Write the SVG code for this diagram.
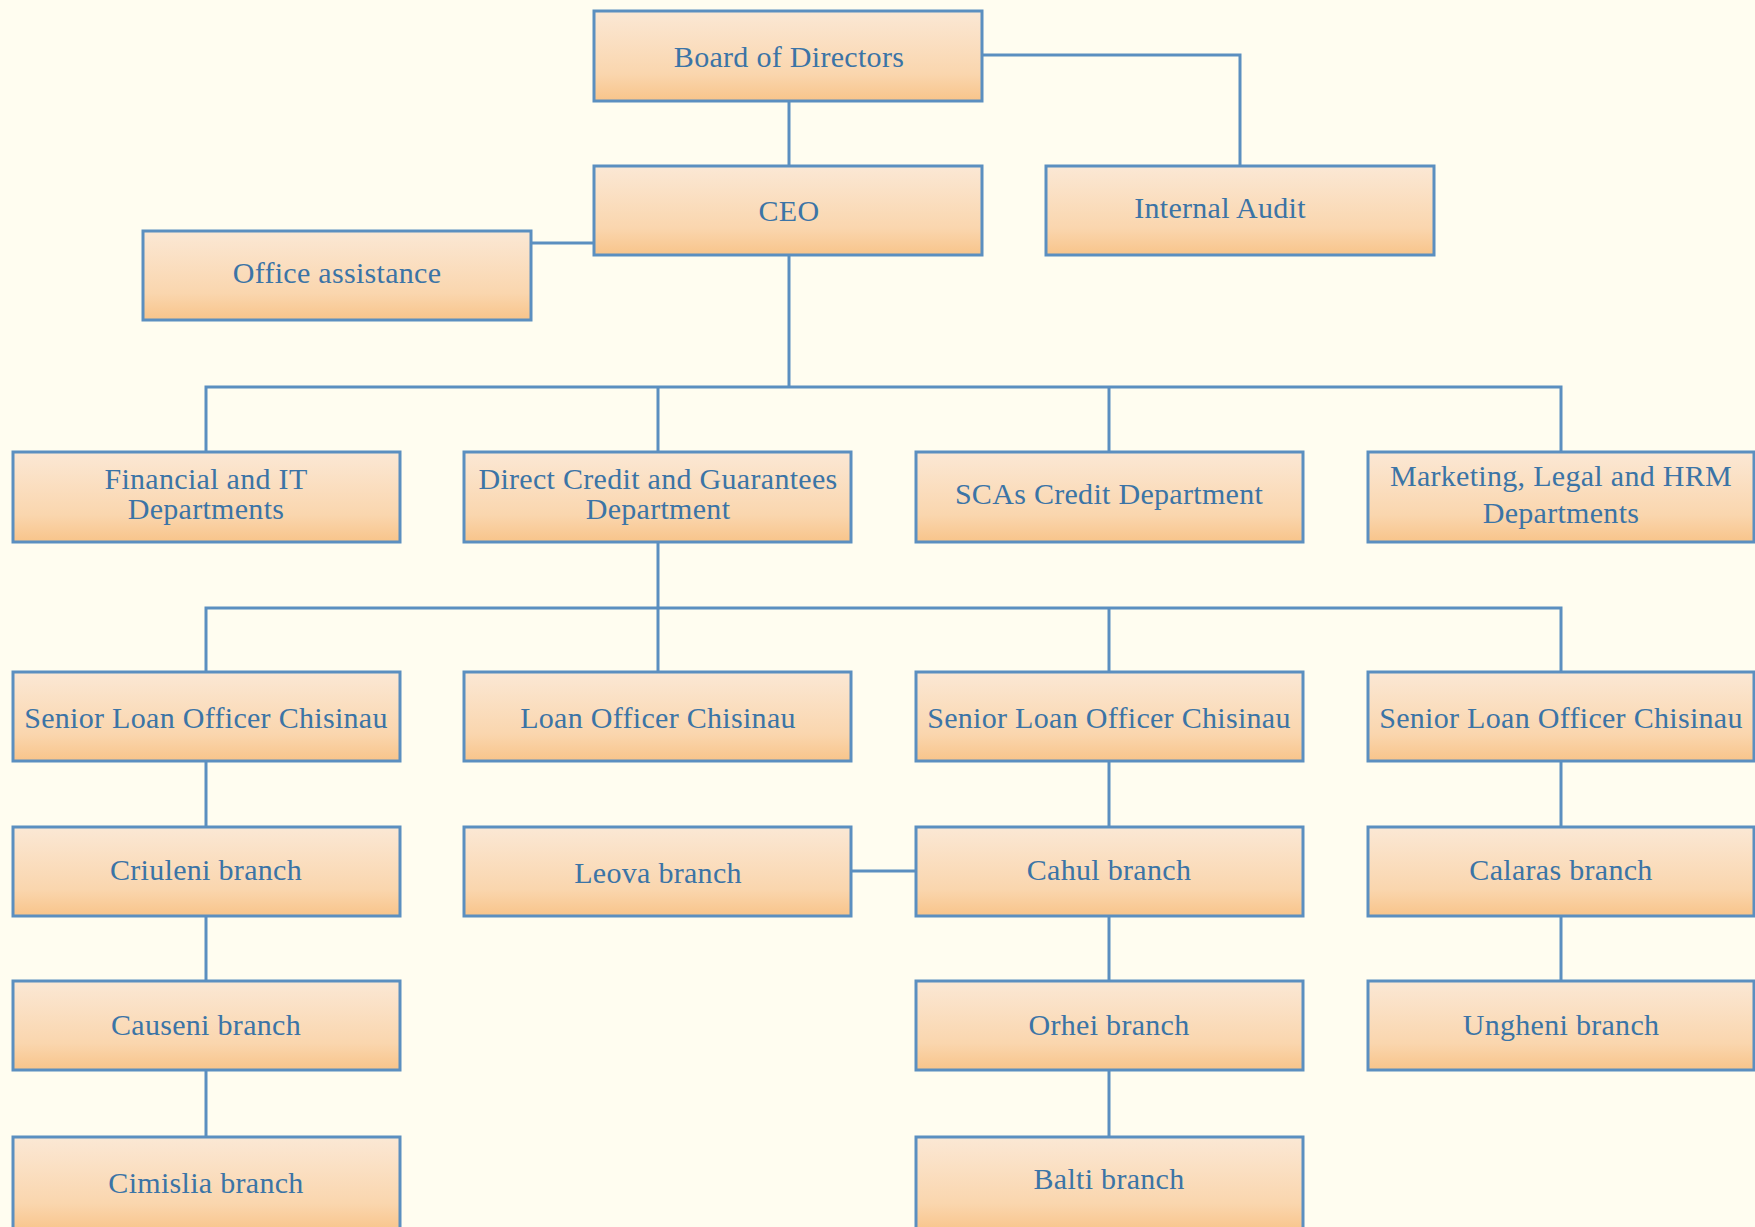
<svg xmlns="http://www.w3.org/2000/svg" width="1755" height="1227" viewBox="0 0 1755 1227">
<defs>
<linearGradient id="g" x1="0" y1="0" x2="0" y2="1">
<stop offset="0" stop-color="#fbe8d5"/>
<stop offset="0.7" stop-color="#fad6ae"/>
<stop offset="1" stop-color="#f8c48a"/>
</linearGradient>
</defs>
<style>
.b{fill:url(#g);stroke:#5b8fc0;stroke-width:3}
.t{font-family:"Liberation Serif","Times New Roman",serif;font-size:30px;letter-spacing:0.3px;fill:#3b74a6;text-anchor:middle}
.c{fill:none;stroke:#5b8fc0;stroke-width:3}
</style>
<rect width="1755" height="1227" fill="#fffdf0"/>
<g id="connectors" class="c">
<path d="M982 55H1240V166"/>
<path d="M789 101V166"/>
<path d="M531 243H594"/>
<path d="M789 255V387"/>
<path d="M206 451V387H1561V451"/>
<path d="M658 387V451"/>
<path d="M1109 387V451"/>
<path d="M658 542V672"/>
<path d="M206 672V608H1561V672"/>
<path d="M1109 608V672"/>
<path d="M206 761V826M206 916V981M206 1070V1137"/>
<path d="M1109 761V826M1109 916V981M1109 1070V1137"/>
<path d="M1561 761V826M1561 916V981"/>
<path d="M851 871H916"/>
</g>
<g id="board"><rect class="b" x="594" y="11" width="388" height="90"/><text class="t" x="789" y="67">Board of Directors</text></g>
<g id="ceo"><rect class="b" x="594" y="166" width="388" height="89"/><text class="t" x="789" y="221">CEO</text></g>
<g id="audit"><rect class="b" x="1046" y="166" width="388" height="89"/><text class="t" x="1220" y="218">Internal Audit</text></g>
<g id="office"><rect class="b" x="143" y="231" width="388" height="89"/><text class="t" x="337" y="283">Office assistance</text></g>
<g id="fin"><rect class="b" x="13" y="452" width="387" height="90"/><text class="t" x="206" y="489">Financial and IT</text><text class="t" x="206" y="519">Departments</text></g>
<g id="direct"><rect class="b" x="464" y="452" width="387" height="90"/><text class="t" x="658" y="489">Direct Credit and Guarantees</text><text class="t" x="658" y="519">Department</text></g>
<g id="scas"><rect class="b" x="916" y="452" width="387" height="90"/><text class="t" x="1109" y="504">SCAs Credit Department</text></g>
<g id="marketing"><rect class="b" x="1368" y="452" width="386" height="90"/><text class="t" x="1561" y="486">Marketing, Legal and HRM</text><text class="t" x="1561" y="523">Departments</text></g>
<g id="slo1"><rect class="b" x="13" y="672" width="387" height="89"/><text class="t" x="206" y="728">Senior Loan Officer Chisinau</text></g>
<g id="lo"><rect class="b" x="464" y="672" width="387" height="89"/><text class="t" x="658" y="728">Loan Officer Chisinau</text></g>
<g id="slo3"><rect class="b" x="916" y="672" width="387" height="89"/><text class="t" x="1109" y="728">Senior Loan Officer Chisinau</text></g>
<g id="slo4"><rect class="b" x="1368" y="672" width="386" height="89"/><text class="t" x="1561" y="728">Senior Loan Officer Chisinau</text></g>
<g id="criuleni"><rect class="b" x="13" y="827" width="387" height="89"/><text class="t" x="206" y="880">Criuleni branch</text></g>
<g id="leova"><rect class="b" x="464" y="827" width="387" height="89"/><text class="t" x="658" y="883">Leova branch</text></g>
<g id="cahul"><rect class="b" x="916" y="827" width="387" height="89"/><text class="t" x="1109" y="880">Cahul branch</text></g>
<g id="calaras"><rect class="b" x="1368" y="827" width="386" height="89"/><text class="t" x="1561" y="880">Calaras branch</text></g>
<g id="causeni"><rect class="b" x="13" y="981" width="387" height="89"/><text class="t" x="206" y="1035">Causeni branch</text></g>
<g id="orhei"><rect class="b" x="916" y="981" width="387" height="89"/><text class="t" x="1109" y="1035">Orhei branch</text></g>
<g id="ungheni"><rect class="b" x="1368" y="981" width="386" height="89"/><text class="t" x="1561" y="1035">Ungheni branch</text></g>
<g id="cimislia"><rect class="b" x="13" y="1137" width="387" height="95"/><text class="t" x="206" y="1193">Cimislia branch</text></g>
<g id="balti"><rect class="b" x="916" y="1137" width="387" height="95"/><text class="t" x="1109" y="1189">Balti branch</text></g>
</svg>
